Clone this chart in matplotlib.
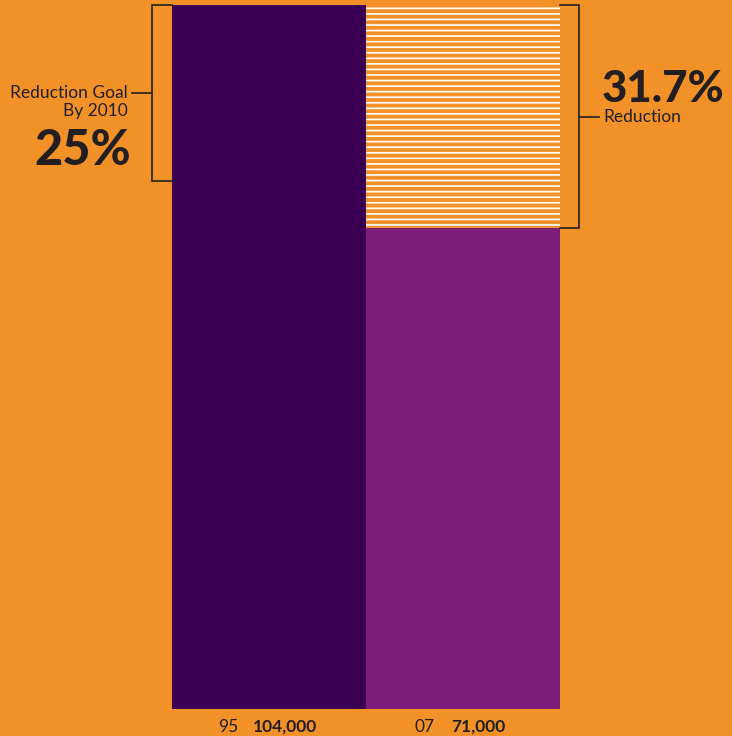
import matplotlib.pyplot as plt
import numpy as np

years = ['95', '07']
values = [104000, 71000]
goal_pct = 25
reduction_pct = 31.7

bg = '#F39129'
dark_purple = '#3B0052'
light_purple = '#7E1C7A'
ink = '#231F20'

plt.rcParams['font.family'] = ['Lato', 'DejaVu Sans']
plt.rcParams['hatch.color'] = 'white'
plt.rcParams['hatch.linewidth'] = 1.2

fig = plt.figure(figsize=(7.32, 7.36), dpi=100, facecolor=bg)
ax = fig.add_axes([172 / 732, 27 / 736, 388 / 732, 704 / 736])
ax.set_facecolor(bg)

x = np.arange(len(values))
ax.bar(x, values, width=1, color=[dark_purple, light_purple], linewidth=0)

# striped block showing the reduction
ax.bar(x[1], values[0] - values[1], bottom=values[1], width=1,
       color=bg, hatch='---', linewidth=0)

ax.set_xlim(-0.5, 1.5)
ax.set_ylim(0, values[0])
ax.axis('off')

px = values[0] / 704  # data units per pixel (vertical)
ux = 1 / 194          # data units per pixel (horizontal)

# left bracket: goal
goal_low = values[0] * (1 - goal_pct / 100)
lx = -0.5 - 20 * ux
ax.plot([-0.5, lx, lx, -0.5], [values[0], values[0], goal_low, goal_low],
        color=ink, lw=1.2, clip_on=False, solid_joinstyle='miter')
gmid = (values[0] + goal_low) / 2
ax.plot([lx, lx - 20 * ux], [gmid, gmid], color=ink, lw=1.2, clip_on=False)
ax.text(lx - 24 * ux, gmid, 'Reduction Goal', ha='right', va='center',
        fontsize=12.5, color=ink)
ax.text(lx - 24 * ux, gmid - 18 * px, 'By 2010', ha='right', va='center',
        fontsize=12.5, color=ink)
ax.text(lx - 21 * ux, gmid - 72 * px, f'{goal_pct}%', ha='right', va='baseline',
        fontsize=35, fontweight='black', color=ink)

# right bracket: actual reduction
rx = 1.5 + 19 * ux
ax.plot([1.5, rx, rx, 1.5], [values[0], values[0], values[1], values[1]],
        color=ink, lw=1.2, clip_on=False, solid_joinstyle='miter')
rmid = (values[0] + values[1]) / 2
ax.plot([rx, rx + 20 * ux], [rmid, rmid], color=ink, lw=1.2, clip_on=False)
ax.text(rx + 24 * ux, rmid, 'Reduction', ha='left', va='center',
        fontsize=12.5, color=ink)
ax.text(rx + 23 * ux, rmid + 15 * px, f'{reduction_pct}%', ha='left', va='baseline',
        fontsize=31.5, fontweight='black', color=ink)

# bottom labels
year_off = [-31, -28]
val_off = [-16, -12]
for i in range(len(values)):
    ax.text(x[i] + year_off[i] * ux, -18 * px, years[i], ha='right', va='center',
            fontsize=12.5, color=ink)
    ax.text(x[i] + val_off[i] * ux, -18 * px, f'{values[i]:,}', ha='left', va='center',
            fontsize=12.5, fontweight='bold', color=ink)

fig.savefig('out.png', dpi=100, facecolor=bg)
